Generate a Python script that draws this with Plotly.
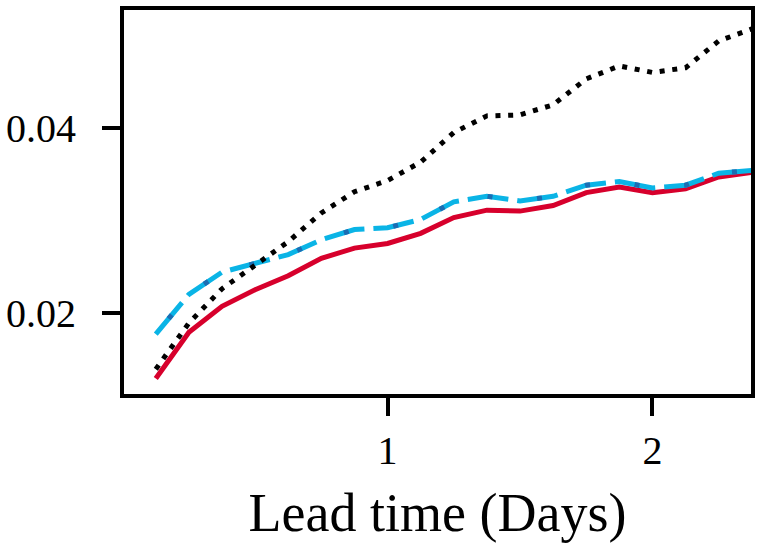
import plotly.graph_objects as go

# lead time in days, every 3 hours
lead_days = [0.125, 0.25, 0.375, 0.5, 0.625, 0.75, 0.875, 1.0, 1.125, 1.25,
             1.375, 1.5, 1.625, 1.75, 1.875, 2.0, 2.125, 2.25, 2.375]

red_vals = [0.0129, 0.0179, 0.0207, 0.0225, 0.0240, 0.0259, 0.0270, 0.0275, 0.0286, 0.0303,
            0.0311, 0.0310, 0.0316, 0.0330, 0.0336, 0.0330, 0.0334, 0.0347, 0.0352]

blue_vals = [0.0177, 0.0220, 0.0244, 0.0254, 0.0263, 0.0279, 0.0290, 0.0292, 0.0301, 0.0320,
             0.0326, 0.0321, 0.0326, 0.0338, 0.0342, 0.0335, 0.0338, 0.0351, 0.0354]

black_vals = [0.0139, 0.0189, 0.0226, 0.0252, 0.0277, 0.0308, 0.0331, 0.0343, 0.0363, 0.0395,
              0.0413, 0.0414, 0.0425, 0.0453, 0.0467, 0.0460, 0.0465, 0.0494, 0.0507]

x_ticks = [1, 2]
y_ticks = [0.02, 0.04]
y_tick_text = ['0.02', '0.04']

FONT = 'Liberation Serif'

fig = go.Figure()

fig.add_trace(go.Scatter(x=lead_days, y=red_vals, mode='lines',
                         line=dict(color='#d7002c', width=5)))
fig.add_trace(go.Scatter(x=lead_days, y=blue_vals, mode='lines',
                         line=dict(color='#0ab4e6', width=5, dash='41px,9px')))
fig.add_trace(go.Scatter(x=lead_days, y=blue_vals, mode='lines',
                         line=dict(color='#1b6db3', width=5, dash='0px,20px,5px,25px')))
fig.add_trace(go.Scatter(x=lead_days, y=black_vals, mode='lines',
                         line=dict(color='black', width=5, dash='5px,7.7px')))

fig.update_layout(
    width=761, height=555,
    margin=dict(l=123, r=7, t=6, b=161),
    paper_bgcolor='white', plot_bgcolor='white',
    showlegend=False,
    font=dict(family=FONT, color='black', size=40),
)

fig.update_xaxes(range=[0.005, 2.372], tickvals=x_ticks, ticks='outside', ticklen=18,
                 tickwidth=4, tickcolor='black', showline=True, linewidth=4,
                 linecolor='black', mirror=True, showgrid=False, zeroline=False,
                 tickfont=dict(family=FONT, size=40),
                 title=dict(text='Lead time (Days)', font=dict(family=FONT, size=54), standoff=22))
fig.update_yaxes(range=[0.01122, 0.05275], tickvals=y_ticks, ticktext=y_tick_text,
                 ticks='outside', ticklen=18, tickwidth=4, tickcolor='black',
                 ticklabelstandoff=18,
                 showline=True, linewidth=4, linecolor='black', mirror=True,
                 showgrid=False, zeroline=False, tickfont=dict(family=FONT, size=40))

# drop the page's default body margin so the figure sits at the window corner
fig.write_html('out.html', config={'displayModeBar': False},
               post_script="document.body.style.margin='0';")
